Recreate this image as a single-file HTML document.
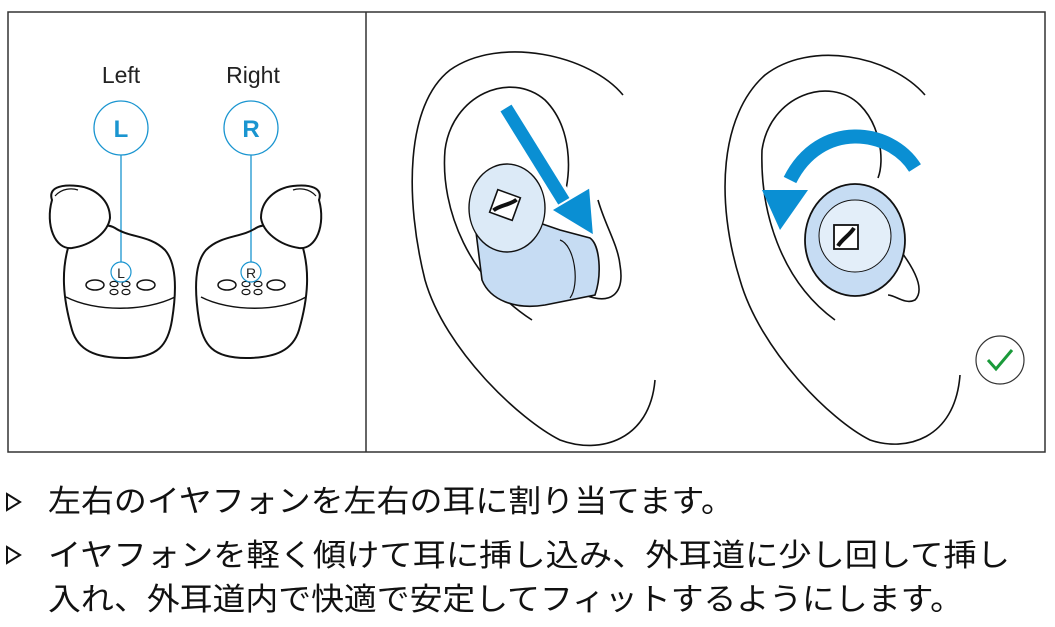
<!DOCTYPE html>
<html><head><meta charset="utf-8"><style>
html,body{margin:0;padding:0;background:#fff;}
svg{display:block;}
text{font-family:"Liberation Sans","Noto Sans CJK JP",sans-serif;}
</style></head><body>
<svg width="1055" height="627" viewBox="0 0 1055 627" xmlns="http://www.w3.org/2000/svg">
<rect x="8" y="12" width="1037" height="440" fill="none" stroke="#333" stroke-width="1.5"/>
<line x1="366" y1="12" x2="366" y2="452" stroke="#333" stroke-width="1.5"/>

<text x="121" y="83" font-size="23" text-anchor="middle" fill="#222">Left</text>
<text x="253" y="83" font-size="23" text-anchor="middle" fill="#222">Right</text>
<g stroke="#1a95d0" stroke-width="1.3" fill="none">
<circle cx="121" cy="128" r="27"/><circle cx="251" cy="128" r="27"/>
<line x1="121" y1="155" x2="121" y2="262"/><line x1="251" y1="155" x2="251" y2="262"/>
</g>
<text x="121" y="137" font-size="24" font-weight="bold" text-anchor="middle" fill="#1a95d0">L</text>
<text x="251" y="137" font-size="24" font-weight="bold" text-anchor="middle" fill="#1a95d0">R</text>

<g fill="none" stroke="#111" stroke-width="2">
<path d="M68,248 C62,270 62,295 72,330 C78,350 95,358 125,358 C158,358 168,345 172,320 C176,295 178,265 165,250 C150,235 130,238 115,228 C105,222 95,228 85,235"/>
<path d="M52,200 C48,188 60,184 78,186 C95,188 110,200 110,218 C108,232 92,245 72,248 C55,250 45,225 52,200 Z" fill="#fff"/>
<path d="M55,196 C62,188 72,188 78,190" stroke-width="1.2"/>
<path d="M66,297 C95,312 145,312 175,297" stroke-width="1.5"/>
<ellipse cx="95" cy="285" rx="9" ry="5" stroke-width="1.5"/><ellipse cx="146" cy="285" rx="9" ry="5" stroke-width="1.5"/>
<g stroke-width="1.2"><ellipse cx="114" cy="284" rx="4" ry="2.6"/><ellipse cx="126" cy="284" rx="4" ry="2.6"/><ellipse cx="114" cy="292" rx="4" ry="2.6"/><ellipse cx="126" cy="292" rx="4" ry="2.6"/></g>
<path d="M303,248 C309,270 309,295 299,330 C293,350 276,358 246,358 C213,358 203,345 199,320 C195,295 193,265 206,250 C221,235 241,238 256,228 C266,222 276,228 286,235"/>
<path d="M319,200 C323,188 311,184 293,186 C276,188 261,200 261,218 C263,232 279,245 299,248 C316,250 326,225 319,200 Z" fill="#fff"/>
<path d="M316,196 C309,188 299,188 293,190" stroke-width="1.2"/>
<path d="M201,297 C230,312 280,312 306,297" stroke-width="1.5"/>
<ellipse cx="227" cy="285" rx="9" ry="5" stroke-width="1.5"/><ellipse cx="276" cy="285" rx="9" ry="5" stroke-width="1.5"/>
<g stroke-width="1.2"><ellipse cx="246" cy="284" rx="4" ry="2.6"/><ellipse cx="258" cy="284" rx="4" ry="2.6"/><ellipse cx="246" cy="292" rx="4" ry="2.6"/><ellipse cx="258" cy="292" rx="4" ry="2.6"/></g>
</g>
<g stroke="#1a95d0" stroke-width="1.2" fill="#fff"><circle cx="121" cy="272" r="10"/><circle cx="251" cy="272" r="10"/></g>
<text x="121" y="278" font-size="14" text-anchor="middle" fill="#222">L</text>
<text x="251" y="278" font-size="14" text-anchor="middle" fill="#222">R</text>

<g fill="none" stroke="#111" stroke-width="1.6">
<path d="M623,95 C590,55 500,35 450,70 C405,105 405,200 425,280 C445,350 520,420 560,440 C600,455 650,440 655,380"/>
<path d="M532,320 C470,280 440,210 445,150 C452,95 510,70 545,100 C570,125 575,170 560,210"/>
<path d="M598,200 C605,225 618,245 620,265 C625,295 610,305 585,295"/>
</g>
<path d="M472,200 L482,280 C490,300 515,310 545,305 L595,295 C602,275 600,245 590,238 L560,230 Z" fill="#c6dcf3" stroke="#111" stroke-width="1.6"/>
<path d="M560,240 C575,245 580,285 570,298" fill="none" stroke="#111" stroke-width="1.2"/>
<ellipse cx="507" cy="208" rx="38" ry="44" fill="#dceaf7" stroke="#111" stroke-width="1.4"/>
<g transform="translate(505,205) rotate(20)"><rect x="-12" y="-12" width="24" height="24" fill="#fff" stroke="#111" stroke-width="1.6"/><path d="M-9,9 C-5,2 5,-2 9,-9" stroke="#111" stroke-width="4" fill="none"/></g>
<line x1="506" y1="108" x2="568" y2="208" stroke="#fff" stroke-width="20"/>
<line x1="506" y1="108" x2="568" y2="208" stroke="#0a8fd3" stroke-width="13"/>
<polygon points="551,210 590,187 594,236" fill="#0a8fd3" stroke="#fff" stroke-width="2"/>

<g fill="none" stroke="#111" stroke-width="1.6">
<path d="M925,95 C890,55 810,40 765,75 C720,115 715,200 740,280 C760,350 830,420 870,440 C905,452 955,440 960,375"/>
<path d="M835,320 C780,280 760,210 762,150 C770,95 830,75 860,105 C880,125 885,160 878,178"/>
<path d="M900,250 C915,270 925,290 915,300 C905,305 895,295 888,295"/>
</g>
<ellipse cx="855" cy="240" rx="50" ry="56" fill="#c6dcf3" stroke="#111" stroke-width="1.8"/>
<circle cx="855" cy="236" r="36" fill="#e3eef9" stroke="#111" stroke-width="1"/>
<g transform="translate(846,237)"><rect x="-12" y="-12" width="24" height="24" fill="#fff" stroke="#111" stroke-width="1.8"/><path d="M-8,9 C-4,2 4,-2 8,-9" stroke="#111" stroke-width="4" fill="none"/></g>
<path d="M915,168 C890,128 820,120 790,180" fill="none" stroke="#0a8fd3" stroke-width="14"/>
<polygon points="762,190 808,190 780,230" fill="#0a8fd3"/>
<circle cx="1000" cy="360" r="24" fill="#fff" stroke="#333" stroke-width="1.2"/>
<path d="M988,360 L996,369 L1012,350" fill="none" stroke="#1a9a3a" stroke-width="3"/>

<g fill="none" stroke="#111" stroke-width="2">
<polygon points="7,494 20,502 7,510"/>
<polygon points="7,547 20,555 7,563"/>
</g>
<g font-size="31" fill="#111">
<text x="48" y="512" textLength="686" lengthAdjust="spacingAndGlyphs">左右のイヤフォンを左右の耳に割り当てます。</text>
<text x="48" y="566" textLength="962" lengthAdjust="spacingAndGlyphs">イヤフォンを軽く傾けて耳に挿し込み、外耳道に少し回して挿し</text>
<text x="48" y="610" textLength="915" lengthAdjust="spacingAndGlyphs">入れ、外耳道内で快適で安定してフィットするようにします。</text>
</g>
</svg>
</body></html>
